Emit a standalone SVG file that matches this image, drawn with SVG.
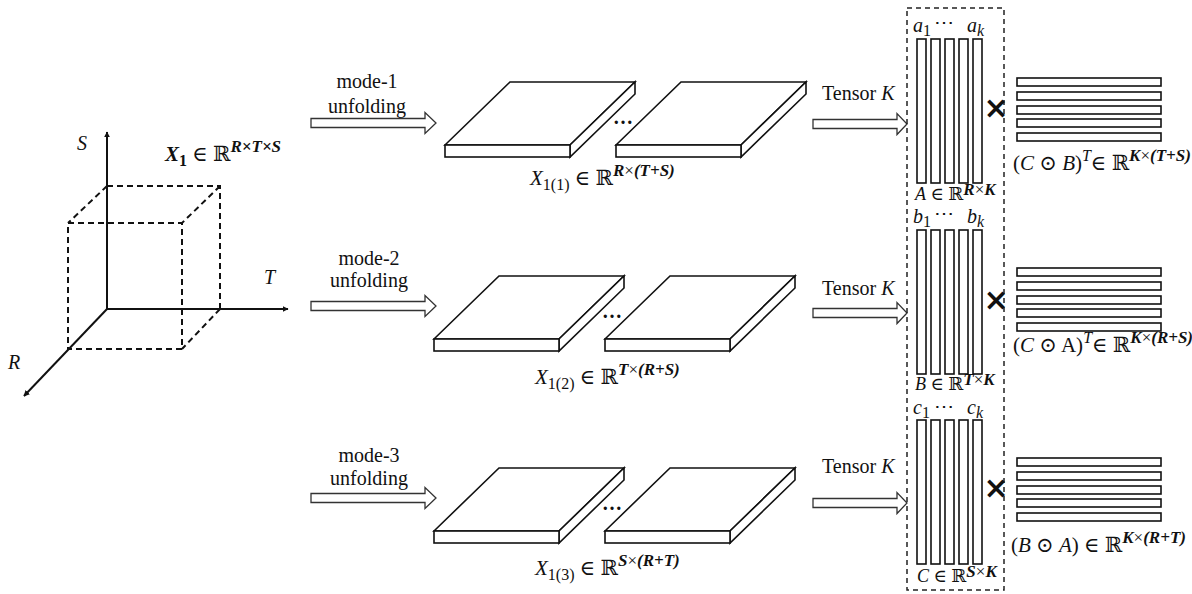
<svg xmlns="http://www.w3.org/2000/svg" width="1192" height="594" viewBox="0 0 1192 594">
<style>
text{font-family:"Liberation Serif","DejaVu Serif",serif;fill:#111}
.m{font-size:20px}
.mm{font-size:21px}
.fl{font-size:18px}
.i{font-style:italic}
.b{font-weight:bold}
.sub{font-size:16px}
.sup{font-size:17px;font-weight:bold;font-style:italic}
.n{font-weight:normal;font-style:normal}
.ln{stroke:#111;stroke-width:2;fill:none}
.dash{stroke:#111;stroke-width:2;fill:none;stroke-dasharray:6 4}
.sh{stroke:#111;stroke-width:1.6;fill:#fff;stroke-linejoin:miter}
.col{stroke:#111;stroke-width:1.6;fill:#fff}
.arr{stroke:#333;stroke-width:1.3;fill:#fff}
.x{font-family:"DejaVu Sans",sans-serif;font-weight:bold;font-size:30px}
</style>
<defs>
<marker id="ah" viewBox="0 0 10 10" refX="9" refY="5" markerWidth="6" markerHeight="6" orient="auto-start-reverse" markerUnits="userSpaceOnUse">
<path d="M0,0 L10,5 L0,10 Z" fill="#111"/>
</marker>
<path id="unf" d="M0,-4.5 H114 V-10.5 L125,0 L114,10.5 V4.5 H0 Z"/>
<path id="ten" d="M0,-4.5 H84 V-10.5 L94,0 L84,10.5 V4.5 H0 Z"/>
<g id="slab">
<path class="sh" d="M0,0 L65,-63 L190,-63 L125,0 Z"/>
<path class="sh" d="M125,0 L190,-63 L190,-51 L125,12 Z"/>
<rect class="sh" x="0" y="0" width="125" height="12"/>
</g>
<g id="cols">
<rect class="col" x="0" y="0" width="9" height="144"/>
<rect class="col" x="14" y="0" width="9" height="144"/>
<rect class="col" x="28" y="0" width="9" height="144"/>
<rect class="col" x="42" y="0" width="9" height="144"/>
<rect class="col" x="56" y="0" width="9" height="144"/>
</g>
<g id="bars">
<rect class="col" x="0" y="0" width="144" height="8"/>
<rect class="col" x="0" y="14" width="144" height="8"/>
<rect class="col" x="0" y="28" width="144" height="8"/>
<rect class="col" x="0" y="41" width="144" height="8"/>
<rect class="col" x="0" y="55" width="144" height="8"/>
</g>
</defs>

<g id="tensor-cube">
<path class="dash" d="M107,186 H220 V309 M107,186 L68,223 M220,186 L182,223 M220,309 L182,349"/>
<rect class="dash" x="68" y="223" width="114" height="126"/>
<line class="ln" x1="107" y1="309" x2="107" y2="132" marker-end="url(#ah)"/>
<line class="ln" x1="107" y1="309" x2="288" y2="309" marker-end="url(#ah)"/>
<line class="ln" x1="107" y1="309" x2="24" y2="396" marker-end="url(#ah)"/>
<text class="m i" x="77" y="150">S</text>
<text class="m i" x="264" y="284">T</text>
<text class="m i" x="8" y="369">R</text>
<text class="mm" x="165" y="161"><tspan class="b i">X</tspan><tspan class="b sub" dy="5">1</tspan><tspan dy="-5"> ∈ ℝ</tspan><tspan class="sup" dy="-9">R×T×S</tspan></text>
</g>

<g id="row1-unfold">
<text class="m" x="367" y="88" text-anchor="middle">mode-1</text>
<text class="m" x="367" y="113" text-anchor="middle">unfolding</text>
</g>
<g id="row2-unfold">
<text class="m" x="369" y="265" text-anchor="middle">mode-2</text>
<text class="m" x="369" y="287" text-anchor="middle">unfolding</text>
</g>
<g id="row3-unfold">
<text class="m" x="369" y="462" text-anchor="middle">mode-3</text>
<text class="m" x="369" y="485" text-anchor="middle">unfolding</text>
</g>

<g id="row1-slabs">
<use href="#slab" x="445" y="145"/>
<use href="#slab" x="616" y="145"/>
<text class="m b" x="623" y="124" text-anchor="middle">…</text>
<text class="mm" x="530" y="185"><tspan class="i">X</tspan><tspan class="sub" dy="5">1(1)</tspan><tspan dy="-5"> ∈ ℝ</tspan><tspan class="sup" dy="-9">R<tspan class="n">×</tspan>(T+S)</tspan></text>
</g>
<g id="row2-slabs">
<use href="#slab" x="434" y="339"/>
<use href="#slab" x="605" y="339"/>
<text class="m b" x="612" y="318" text-anchor="middle">…</text>
<text class="mm" x="535" y="384"><tspan class="i">X</tspan><tspan class="sub" dy="5">1(2)</tspan><tspan dy="-5"> ∈ ℝ</tspan><tspan class="sup" dy="-9">T<tspan class="n">×</tspan>(R+S)</tspan></text>
</g>
<g id="row3-slabs">
<use href="#slab" x="434" y="531"/>
<use href="#slab" x="605" y="531"/>
<text class="m b" x="612" y="510" text-anchor="middle">…</text>
<text class="mm" x="535" y="575"><tspan class="i">X</tspan><tspan class="sub" dy="5">1(3)</tspan><tspan dy="-5"> ∈ ℝ</tspan><tspan class="sup" dy="-9">S<tspan class="n">×</tspan>(R+T)</tspan></text>
</g>

<g id="connectors">
<use href="#unf" class="arr" x="311" y="123"/>
<use href="#unf" class="arr" x="311" y="306"/>
<use href="#unf" class="arr" x="311" y="498"/>
<use href="#ten" class="arr" x="813" y="124"/>
<use href="#ten" class="arr" x="813" y="313"/>
<use href="#ten" class="arr" x="813" y="503"/>
<text class="m" x="822" y="100">Tensor <tspan class="i">K</tspan></text>
<text class="m" x="822" y="295">Tensor <tspan class="i">K</tspan></text>
<text class="m" x="822" y="473">Tensor <tspan class="i">K</tspan></text>
</g>

<g id="factor-box">
<rect x="907" y="8" width="97" height="582" fill="none" stroke="#222" stroke-width="1.5" stroke-dasharray="5 4"/>
</g>

<g id="factor-A">
<use href="#cols" x="917" y="39"/>
<text class="m i" x="913" y="32">a<tspan class="sub n" dy="4">1</tspan></text>
<text class="m" x="944" y="29" text-anchor="middle" font-size="16">⋯</text>
<text class="m i" x="967" y="32">a<tspan class="sub" dy="4">k</tspan></text>
<text class="fl" x="915" y="200"><tspan class="i">A</tspan> ∈ ℝ<tspan class="sup" font-size="14" dy="-5">R<tspan class="n">×</tspan>K</tspan></text>
</g>
<g id="factor-B">
<use href="#cols" x="917" y="230"/>
<text class="m i" x="913" y="223">b<tspan class="sub n" dy="4">1</tspan></text>
<text class="m" x="944" y="220" text-anchor="middle" font-size="16">⋯</text>
<text class="m i" x="967" y="223">b<tspan class="sub" dy="4">k</tspan></text>
<text class="fl" x="915" y="390"><tspan class="i">B</tspan> ∈ ℝ<tspan class="sup" font-size="14" dy="-5">T<tspan class="n">×</tspan>K</tspan></text>
</g>
<g id="factor-C">
<use href="#cols" x="917" y="420"/>
<text class="m i" x="913" y="414">c<tspan class="sub n" dy="4">1</tspan></text>
<text class="m" x="944" y="413" text-anchor="middle" font-size="16">⋯</text>
<text class="m i" x="967" y="414">c<tspan class="sub" dy="4">k</tspan></text>
<text class="fl" x="917" y="582"><tspan class="i">C</tspan> ∈ ℝ<tspan class="sup" font-size="14" dy="-5">S<tspan class="n">×</tspan>K</tspan></text>
</g>

<g id="times">
<text class="x" x="996" y="118" text-anchor="middle">×</text>
<text class="x" x="996" y="310" text-anchor="middle">×</text>
<text class="x" x="996" y="498" text-anchor="middle">×</text>
</g>

<g id="khatri-1">
<use href="#bars" x="1017" y="78"/>
<text class="mm" x="1013" y="170">(<tspan class="i">C</tspan> ⊙ <tspan class="i">B</tspan>)<tspan class="i" font-size="16" dy="-9">T</tspan><tspan dy="9">∈ ℝ</tspan><tspan class="sup" dy="-9">K<tspan class="n">×</tspan>(T+S)</tspan></text>
</g>
<g id="khatri-2">
<use href="#bars" x="1017" y="268"/>
<text class="mm" x="1013" y="352">(<tspan class="i">C</tspan> ⊙ A)<tspan class="i" font-size="16" dy="-9">T</tspan><tspan dy="9">∈ ℝ</tspan><tspan class="sup" dy="-9">K<tspan class="n">×</tspan>(R+S)</tspan></text>
</g>
<g id="khatri-3">
<use href="#bars" x="1017" y="458"/>
<text class="mm" x="1011" y="552">(<tspan class="i">B</tspan> ⊙ <tspan class="i">A</tspan>) ∈ ℝ<tspan class="sup" dy="-9">K<tspan class="n">×</tspan>(R+T)</tspan></text>
</g>
</svg>
